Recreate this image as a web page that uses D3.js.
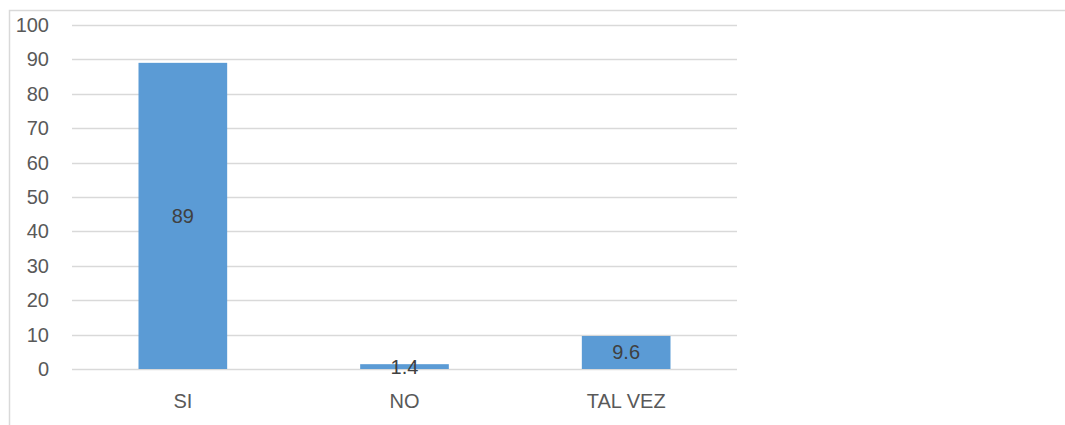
<!DOCTYPE html>
<html><head><meta charset="utf-8">
<script src="https://cdn.jsdelivr.net/npm/d3@7"></script>
<style>html,body{margin:0;padding:0;background:#fff;}svg{display:block;}</style>
</head><body>
<svg id="c" width="1065" height="425"></svg>
<script>
const categories = ["SI", "NO", "TAL VEZ"];
const values = [89, 1.4, 9.6];
const yTicks = [0, 10, 20, 30, 40, 50, 60, 70, 80, 90, 100];

const svg = d3.select("#c");
const font = "'Liberation Sans', Arial, sans-serif";
const fs = "20px";
// chart frame
svg.append("path").attr("d", "M9.5,425 L9.5,10.5 L1065,10.5")
  .attr("fill", "none").attr("stroke", "#D9D9D9").attr("stroke-width", 1.5);

const x = d3.scaleBand().domain(categories).range([72, 737]).paddingInner(0.6).paddingOuter(0.3);
const y = d3.scaleLinear().domain([0, 100]).range([369, 25]);

const grid = svg.append("g");
grid.selectAll("line").data(yTicks).join("line")
  .attr("x1", 72).attr("x2", 737)
  .attr("y1", d => Math.round(y(d)) + 0.5).attr("y2", d => Math.round(y(d)) + 0.5)
  .attr("stroke", "#D9D9D9").attr("stroke-width", 1.3);

const yAxis = d3.axisLeft(y).tickValues(yTicks).tickSize(0).tickPadding(0);
const ya = svg.append("g").attr("transform", "translate(49,0)").call(yAxis);
ya.select(".domain").remove();
ya.selectAll("text").attr("fill", "#595959").style("font-family", font).style("font-size", fs);

svg.append("g").selectAll("rect").data(values).join("rect")
  .attr("x", (d, i) => x(categories[i]))
  .attr("width", x.bandwidth())
  .attr("y", d => y(d))
  .attr("height", d => y(0) - y(d))
  .attr("fill", "#5B9BD5");

const xAxis = d3.axisBottom(x).tickSize(0).tickPadding(0);
const xa = svg.append("g").attr("transform", "translate(0,394)").call(xAxis);
xa.select(".domain").remove();
xa.selectAll("text").attr("fill", "#595959").style("font-family", font).style("font-size", fs);

svg.append("g").selectAll("text").data(values).join("text")
  .attr("x", (d, i) => x(categories[i]) + x.bandwidth() / 2)
  .attr("y", d => (y(d) + y(0)) / 2)
  .attr("dy", "0.35em")
  .attr("text-anchor", "middle")
  .attr("fill", "#404040")
  .style("font-family", font).style("font-size", fs)
  .text(d => d);
</script>
</body></html>
